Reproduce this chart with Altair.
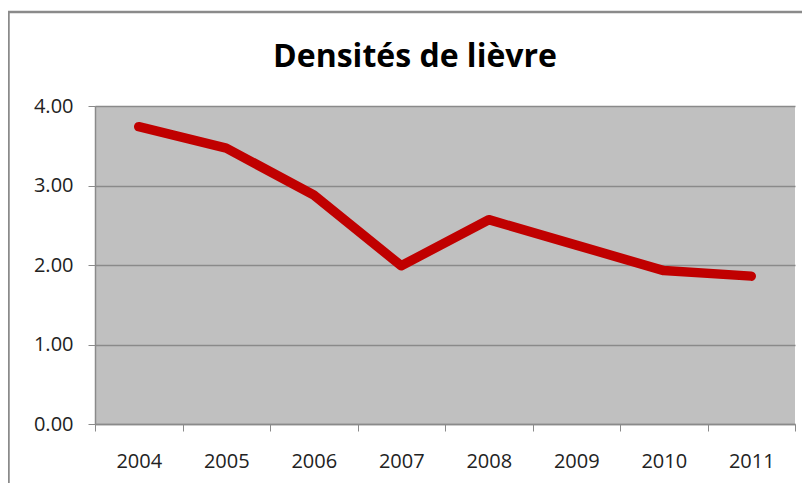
import altair as alt
import pandas as pd

title_text = "Densités de lièvre"
years = ["2004", "2005", "2006", "2007", "2008", "2009", "2010", "2011"]
densities = [3.74, 3.47, 2.88, 1.99, 2.57, 2.25, 1.93, 1.86]
y_ticks = [0, 1, 2, 3, 4]

df = pd.DataFrame({"year": years, "density": densities})
one = pd.DataFrame({"title": [title_text]})

GRAY = "#8a8a8a"
FONT = "Open Sans"

line = alt.Chart(df).mark_line(
    color="#c00000", strokeWidth=9.5, strokeCap="round", strokeJoin="round"
).encode(
    x=alt.X(
        "year:O",
        bandPosition=0.5,
        sort=years,
        scale=alt.Scale(type="band", paddingInner=0, paddingOuter=0),
        axis=alt.Axis(
            title=None, labelAngle=0, tickBand="extent", grid=False,
            labelFont=FONT, labelFontSize=20, labelColor="#222222",
            labelPadding=20, tickSize=7, tickColor=GRAY, domainColor=GRAY,
            domainWidth=1.5,
        ),
    ),
    y=alt.Y(
        "density:Q",
        scale=alt.Scale(domain=[0, 4], nice=False, zero=True),
        axis=alt.Axis(
            title=None, values=y_ticks, format=".2f", grid=True,
            gridColor=GRAY, gridWidth=1.5, labelFont=FONT, labelFontSize=20,
            labelColor="#222222", labelPadding=15, tickSize=7, tickColor=GRAY,
            domainColor=GRAY, domainWidth=1.5,
        ),
    ),
)

border_left = alt.Chart(one).mark_rule(color="#8a8a8a", strokeWidth=2.5).encode(
    x=alt.value(-86.5), y=alt.value(-94), y2=alt.value(600)
)
border_top = alt.Chart(one).mark_rule(color="#8a8a8a", strokeWidth=2.5).encode(
    x=alt.value(-87.5), x2=alt.value(900), y=alt.value(-94)
)
title = alt.Chart(one).mark_text(
    font=FONT, fontSize=32, fontWeight="bold", color="#000000",
    align="center", baseline="alphabetic",
).encode(text="title:N", x=alt.value(320), y=alt.value(-39))

chart = alt.layer(border_left, border_top, title, line).properties(
    width=700,
    height=318,
    autosize=alt.AutoSizeParams(type="none"),
    padding={"left": 87, "top": 98, "right": 7, "bottom": 59},
).configure(background="white").configure_view(fill="#c0c0c0", strokeWidth=0)

chart.save("out.html", embed_options={"renderer": "svg", "actions": False})
